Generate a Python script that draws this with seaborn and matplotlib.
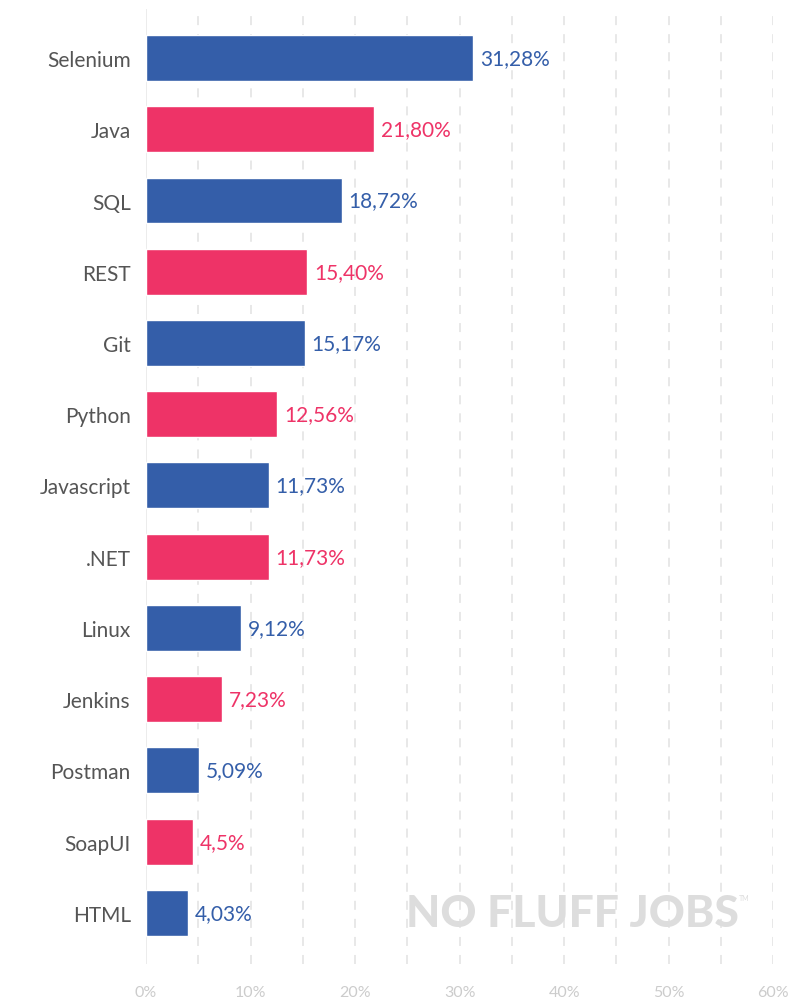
import matplotlib.pyplot as plt
import pandas as pd
import seaborn as sns

skills = ["Selenium", "Java", "SQL", "REST", "Git", "Python", "Javascript",
          ".NET", "Linux", "Jenkins", "Postman", "SoapUI", "HTML"]
shares = [31.28, 21.80, 18.72, 15.40, 15.17, 12.56, 11.73,
          11.73, 9.12, 7.23, 5.09, 4.5, 4.03]
share_labels = ["31,28%", "21,80%", "18,72%", "15,40%", "15,17%", "12,56%", "11,73%",
                "11,73%", "9,12%", "7,23%", "5,09%", "4,5%", "4,03%"]
x_ticks = [0, 10, 20, 30, 40, 50, 60]

blue = "#345EA9"
pink = "#EE3367"
colors = [blue if i % 2 == 0 else pink for i in range(len(skills))]

df = pd.DataFrame({"skill": skills, "share": shares})

sns.set_style("white")
plt.rcParams["font.family"] = ["Lato", "DejaVu Sans"]

fig = plt.figure(figsize=(7.98, 10.03), dpi=100)
ax = fig.add_axes([0.183, 0.038, 0.786, 0.952])

sns.barplot(data=df, x="share", y="skill", hue="skill", palette=colors,
            legend=False, width=0.645, ax=ax, saturation=1)

# dashed grid every 5 %
for v in range(5, 65, 5):
    ax.axvline(v, color="#e6e6e6", lw=1.3, ls=(0, (5, 5)), zorder=0)
ax.axvline(0, color="#ebebeb", lw=1.3, zorder=0)

for cont, lab, col in zip(ax.containers, share_labels, colors):
    ax.bar_label(cont, labels=[lab], padding=5, color=col, fontsize=15)

ax.set_xlim(0, 60)
ax.set_ylim(12.716, -0.688)
ax.set_xticks(x_ticks)
ax.set_xticklabels([f"{t}%" for t in x_ticks], color="#cccccc", fontsize=11.5)
ax.tick_params(axis="x", length=0, pad=15)
ax.tick_params(axis="y", length=0, pad=11, labelsize=15, labelcolor="#555555")
ax.set_xlabel("")
ax.set_ylabel("")
sns.despine(ax=ax, left=True, bottom=True)

ax.text(0.415, 0.053, "NO FLUFF JOBS", transform=ax.transAxes, fontsize=32,
        fontweight="black", color="#dddddd", va="center", ha="left", zorder=1)
ax.text(0.945, 0.07, "TM", transform=ax.transAxes, fontsize=5,
        color="#dddddd", va="center", ha="left")

fig.savefig("out.png", dpi=100)
